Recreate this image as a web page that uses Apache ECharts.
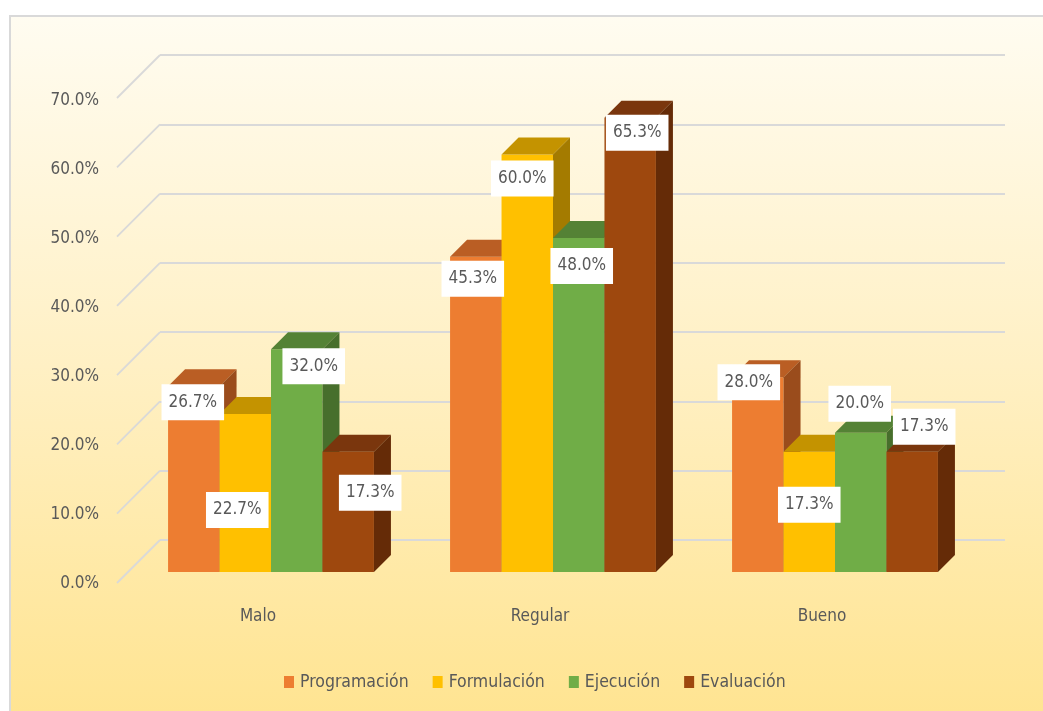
<!DOCTYPE html>
<html>
<head>
<meta charset="utf-8">
<script src="https://cdn.jsdelivr.net/npm/echarts@6/dist/echarts.min.js"></script>
<style>html,body{margin:0;padding:0;background:#fff}#c{width:1043px;height:711px}</style>
</head>
<body>
<div id="c"></div>
<script>
// ---- data ----
var categories = ['Malo', 'Regular', 'Bueno'];
var seriesNames = ['Programación', 'Formulación', 'Ejecución', 'Evaluación'];
var programacion = [26.7, 45.3, 28.0];
var formulacion = [22.7, 60.0, 17.3];
var ejecucion = [32.0, 48.0, 20.0];
var evaluacion = [17.3, 65.3, 17.3];
var tickValues = [0, 10, 20, 30, 40, 50, 60, 70];

// ---- style / layout ----
var FRONT = ['#ED7D31', '#FFC000', '#70AD47', '#9E480E'];
var TOPC = ['#BA5E24', '#C49300', '#548235', '#7A360D'];
var SIDE = ['#9A4C1C', '#A47B00', '#476F2C', '#652B07'];
var DEPTH = 17;
var WALL_DX = 43, WALL_DY = 43;
var GROUP_RATIO = 0.73;
var FAMILY = '"DejaVu Sans Condensed", "DejaVu Sans", sans-serif';
var FONT = '17px ' + FAMILY;
// label nudges relative to the bar's top-front centre [dx, dy] per series per category
var LABEL_NUDGE = [
  [[-1, 16], [-3, 22], [-9, 5]],
  [[-8, 96], [-5, 24], [0, 53]],
  [[17, 17], [3, 28], [-1, -29]],
  [[22, 41], [7, 15], [12, -25]]
];
var allValues = [programacion, formulacion, ejecucion, evaluacion];

function barRender(sIdx) {
  return function (params, api) {
    var cat = api.value(0), v = api.value(1);
    var top = api.coord([cat, v]);
    var base = api.coord([cat, 0]);
    var band = api.size([1, 0])[0];
    var bw = band * GROUP_RATIO / 4;
    var x0 = top[0] - band * GROUP_RATIO / 2 + sIdx * bw;
    var x1 = x0 + bw;
    var yT = top[1], yB = base[1], d = DEPTH;
    var nud = LABEL_NUDGE[sIdx][cat];
    return {
      type: 'group',
      children: [
        { type: 'rect', shape: { x: x0, y: yT, width: bw, height: yB - yT }, style: { fill: FRONT[sIdx] } },
        { type: 'polygon', shape: { points: [[x0, yT], [x0 + d, yT - d], [x1 + d, yT - d], [x1, yT]] }, style: { fill: TOPC[sIdx] } },
        { type: 'polygon', shape: { points: [[x1, yT], [x1 + d, yT - d], [x1 + d, yB - d], [x1, yB]] }, style: { fill: SIDE[sIdx] } },
        {
          type: 'text', z2: 100,
          style: {
            text: v.toFixed(1) + '%', x: (x0 + x1) / 2 + nud[0], y: yT + nud[1],
            align: 'center', verticalAlign: 'middle', fill: '#595959', font: FONT,
            backgroundColor: '#ffffff', padding: [10, 7, 9, 7]
          }
        }
      ]
    };
  };
}

var series = [];
seriesNames.forEach(function (name, i) {
  series.push({
    type: 'custom', name: name, xAxisIndex: 0, yAxisIndex: 0, z: 3,
    itemStyle: { color: FRONT[i] },
    renderItem: barRender(i),
    encode: { x: 0, y: 1 },
    data: categories.map(function (c, ci) { return [ci, allValues[i][ci]]; })
  });
});
// diagonal wall lines
series.push({
  type: 'custom', xAxisIndex: 1, yAxisIndex: 1, z: 1, silent: true,
  renderItem: function (params, api) {
    var p = api.coord([0, api.value(0)]);
    return { type: 'line', shape: { x1: p[0] - WALL_DX, y1: p[1] + WALL_DY, x2: p[0], y2: p[1] }, style: { stroke: '#D9D9D9', lineWidth: 1.8 } };
  },
  encode: { y: 0 },
  data: tickValues.map(function (t) { return [t]; })
});

var chart = echarts.init(document.getElementById('c'));
chart.setOption({
  backgroundColor: '#ffffff',
  animation: false,
  graphic: [{
    type: 'rect', z: -10, silent: true,
    shape: { x: 10, y: 16, width: 1040, height: 700 },
    style: {
      fill: new echarts.graphic.LinearGradient(0, 0, 0, 1, [
        { offset: 0, color: '#FFFCF1' }, { offset: 0.5, color: '#FFF0C4' }, { offset: 1, color: '#FFE491' }
      ]),
      stroke: '#D9D9D9', lineWidth: 2
    }
  }],
  legend: {
    data: seriesNames, icon: 'rect', itemWidth: 10, itemHeight: 12, itemGap: 24,
    top: 668, left: 279,
    textStyle: { color: '#595959', fontSize: 17.5, fontFamily: FAMILY, padding: [0, 0, 0, 1] }
  },
  grid: [
    { left: 130, right: 67, top: 85, bottom: 139 },
    { left: 160, right: 38, top: 55, bottom: 171 },
    { left: 117, right: 38, top: 101, bottom: 127 }
  ],
  xAxis: [
    { type: 'category', gridIndex: 0, data: categories, axisLine: { show: false }, axisTick: { show: false },
      axisLabel: { margin: 36, color: '#595959', fontSize: 17, fontFamily: FAMILY, padding: [0, 26, 0, 0] } },
    { type: 'value', gridIndex: 1, min: 0, max: 1, show: false },
    { type: 'value', gridIndex: 2, min: 0, max: 1, show: false }
  ],
  yAxis: [
    { type: 'value', gridIndex: 0, min: 0, max: 70, show: false },
    { type: 'value', gridIndex: 1, min: 0, max: 70, interval: 10,
      axisLine: { show: false }, axisTick: { show: false }, axisLabel: { show: false },
      splitLine: { lineStyle: { color: '#D9D9D9', width: 1.8 } } },
    { type: 'value', gridIndex: 2, min: 0, max: 70, interval: 10,
      axisLine: { show: false }, axisTick: { show: false }, splitLine: { show: false },
      axisLabel: { margin: 18, color: '#595959', fontSize: 17, fontFamily: FAMILY,
        formatter: function (v) { return v.toFixed(1) + '%'; } } }
  ],
  series: series
});
</script>
</body>
</html>
